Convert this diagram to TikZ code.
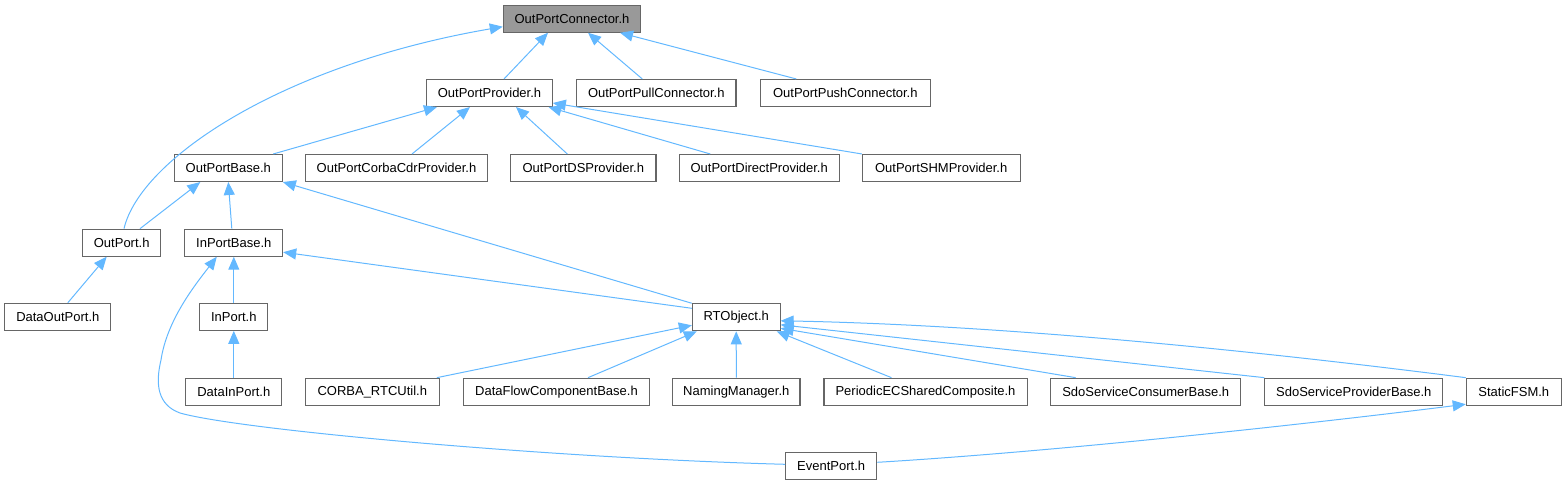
\documentclass[tikz,border=0pt]{standalone}
\usepackage{fontspec}
\setmainfont{Liberation Sans}
\usetikzlibrary{arrows.meta,calc}
\definecolor{edgeblue}{HTML}{63B8FF}
\definecolor{boxborder}{HTML}{666666}
\definecolor{rootfill}{HTML}{999999}
\begin{document}
\begin{tikzpicture}[x=0.75pt,y=-0.75pt,
  hdr/.style={draw=boxborder, line width=0.8pt, fill=white, minimum height=20.25pt,
    inner xsep=0pt, inner ysep=0pt, font=\fontsize{9.75}{11}\selectfont},
  root/.style={hdr, fill=rootfill},
  dep/.style={draw=edgeblue, line width=0.75pt, -{Triangle[length=9.75pt,width=8.25pt]}}]
\useasboundingbox (0,0) rectangle (1567,485);

\node[root, minimum width=103.05pt] (conn) at (572,18.7) {OutPortConnector.h};
\node[hdr, minimum width=94.2pt] (prov) at (489.5,93) {OutPortProvider.h};
\node[hdr, minimum width=119.5pt] (pull) at (656.3,93) {OutPortPullConnector.h};
\node[hdr, minimum width=127.1pt] (push) at (845.3,93) {OutPortPushConnector.h};
\node[hdr, minimum width=81pt] (base) at (228.3,168) {OutPortBase.h};
\node[hdr, minimum width=136.3pt] (corba) at (396.5,168) {OutPortCorbaCdrProvider.h};
\node[hdr, minimum width=109pt] (ds) at (583.3,168) {OutPortDSProvider.h};
\node[hdr, minimum width=120.2pt] (direct) at (759.2,168) {OutPortDirectProvider.h};
\node[hdr, minimum width=118.3pt] (shm) at (941.2,168) {OutPortSHMProvider.h};
\node[hdr, minimum width=58.5pt] (outport) at (121.7,242.7) {OutPort.h};
\node[hdr, minimum width=73.3pt] (inbase) at (233.8,242.7) {InPortBase.h};
\node[hdr, minimum width=79.3pt] (dataout) at (57.8,316.8) {DataOutPort.h};
\node[hdr, minimum width=50.8pt] (inport) at (233.8,316.8) {InPort.h};
\node[hdr, minimum width=65.8pt] (rto) at (736.2,317.3) {RTObject.h};
\node[hdr, minimum width=71.8pt] (datain) at (233.8,391.7) {DataInPort.h};
\node[hdr, minimum width=100.5pt] (corbautil) at (372.3,391.7) {CORBA\_RTCUtil.h};
\node[hdr, minimum width=139.2pt] (dfc) at (556.5,391.7) {DataFlowComponentBase.h};
\node[hdr, minimum width=95.5pt] (naming) at (736.3,391.7) {NamingManager.h};
\node[hdr, minimum width=152.3pt] (periodic) at (925.5,391.7) {PeriodicECSharedComposite.h};
\node[hdr, minimum width=142.5pt] (sdocons) at (1145.7,391.7) {SdoServiceConsumerBase.h};
\node[hdr, minimum width=133.3pt] (sdoprov) at (1353.8,391.7) {SdoServiceProviderBase.h};
\node[hdr, minimum width=71.3pt] (fsm) at (1513.8,391.7) {StaticFSM.h};
\node[hdr, minimum width=68.3pt] (event) at (831.2,466.3) {EventPort.h};

% to OutPortConnector
\draw[dep] ($(prov.north)+(14.5,0)$) -- ($(conn.south)+(-24,0)$);
\draw[dep] ($(pull.north)+(-14,0)$) -- ($(conn.south)+(16,0)$);
\draw[dep] ($(push.north)+(-49,0)$) -- ($(conn.south)+(48,0)$);
\draw[dep] ($(outport.north)+(2.3,0)$) .. controls (140,160) and (280,65) .. ($(conn.west)+(0,8)$);
% to OutPortProvider
\draw[dep] ($(base.north)+(45,0)$) -- ($(prov.south)+(-52.5,0)$);
\draw[dep] ($(corba.north)+(15.5,0)$) -- ($(prov.south)+(-19.5,0)$);
\draw[dep] ($(ds.north)+(-16,0)$) -- ($(prov.south)+(26.5,0)$);
\draw[dep] ($(direct.north)+(-49,0)$) -- ($(prov.south)+(59,0)$);
\draw[dep] (shm.north west) -- ($(prov.east)+(0,10)$);
% to OutPortBase
\draw[dep] ($(outport.north)+(18.3,0)$) -- ($(base.south)+(-28,0)$);
\draw[dep] ($(inbase.north)+(-2,0)$) -- (base.south);
\draw[dep] (rto.north west) -- (base.south east);
% to OutPort
\draw[dep] ($(dataout.north)+(10,0)$) -- ($(outport.south)+(-15,0)$);
% to InPortBase
\draw[dep] (inport.north) -- (inbase.south);
\draw[dep] ($(rto.west)+(0,-9)$) -- ($(inbase.east)+(0,9.5)$);
\draw[dep] ($(event.west)+(0,-2)$) .. controls (550,458) and (240,430) .. (180,413)
  .. controls (158,405) and (155,385) .. (161,360)
  .. controls (167,320) and (195,285) .. ($(inbase.south)+(-17,0)$);
% to InPort
\draw[dep] (datain.north) -- (inport.south);
% to RTObject
\draw[dep] ($(corbautil.north east)+(-3,0)$) -- ($(rto.west)+(0,8)$);
\draw[dep] ($(dfc.north)+(31.5,0)$) -- ($(rto.south west)+(5,0)$);
\draw[dep] (naming.north) -- (rto.south);
\draw[dep] ($(periodic.north)+(-34,0)$) -- ($(rto.south)+(40.5,0)$);
\draw[dep] ($(sdocons.north)+(-70,0)$) -- ($(rto.east)+(0,11)$);
\draw[dep] (sdoprov.north west) -- ($(rto.east)+(0,7.5)$);
\draw[dep] (fsm.north west) .. controls (1250,350) and (1000,325) .. ($(rto.east)+(0,3.5)$);
% to StaticFSM
\draw[dep] ($(event.east)+(0,-4)$) .. controls (1050,452) and (1300,425) .. ($(fsm.south west)+(0,-1.5)$);
\end{tikzpicture}
\end{document}
